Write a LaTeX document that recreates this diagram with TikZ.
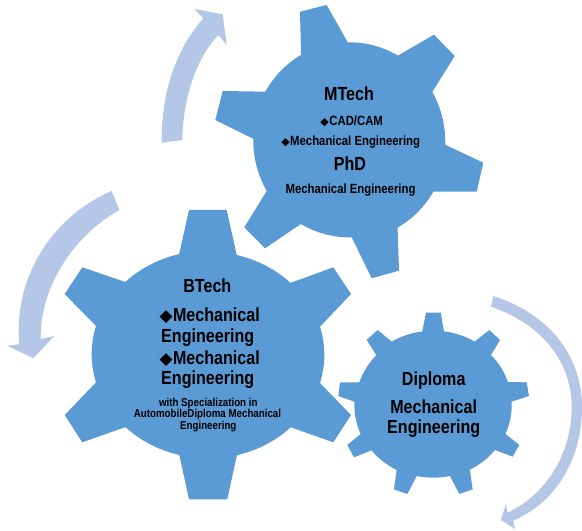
\documentclass[tikz,border=0pt]{standalone}
\usepackage{fontspec}
\setmainfont{Liberation Sans}[FakeStretch=0.85]
\newfontfamily\diafont{DejaVu Sans}
\newcommand{\smalldia}{{\diafont\fontsize{11}{11}\selectfont ◆}}
\newcommand{\bigdia}{{\diafont\fontsize{17}{17}\selectfont ◆}}
\tikzset{
  gearbody/.style={fill=gearblue,draw=none},
  cyclearrow/.style={fill=arrowblue,draw=none},
  lab/.style={anchor=base,inner sep=0pt,text=black,font=\bfseries\fontsize{19}{19}\selectfont},
  sublab/.style={anchor=base,inner sep=0pt,text=black,font=\bfseries\fontsize{13.4}{13.4}\selectfont},
  tinylab/.style={anchor=base,inner sep=0pt,text=black,font=\bfseries\fontsize{11.5}{11.5}\selectfont}
}
\definecolor{gearblue}{HTML}{5B9BD5}
\definecolor{arrowblue}{HTML}{B4C7E7}
\begin{document}
\begin{tikzpicture}[x=1bp,y=-1bp]
\useasboundingbox (0,0) rectangle (582,531);
% cycle arrows
\fill[cyclearrow] (161.7,142.7) .. controls (161,95) and (175,50) .. (203.3,18.3)
  -- (194.3,9) -- (222.7,14.3) -- (226.7,45) -- (218.3,35)
  .. controls (195,60) and (183,100) .. (182.3,140) -- cycle;
\fill[cyclearrow] (111.7,191) .. controls (55,215) and (13,275) .. (19.3,344.3)
  -- (7.3,345.7) -- (33.3,358.3) -- (54.3,336) -- (40.7,339)
  .. controls (40,285) and (75,235) .. (119.3,210) -- cycle;
\fill[cyclearrow] (493.3,296) .. controls (553,315) and (582,360) .. (582,406.7)
  .. controls (582,455) and (560,500) .. (513.3,520.7)
  -- (515,529) -- (501,520) -- (505.7,504.3) -- (507.7,512.7)
  .. controls (545,495) and (571.7,455) .. (571.7,406.7)
  .. controls (571.7,365) and (545,325) .. (491,306.7) -- cycle;
% MTech gear
\fill[gearbody] (300,11.7) -- (326.7,5) -- (347.7,42.3)
  arc[start angle=-91,end angle=-60,x radius=97,y radius=99.5]
  -- (434,34.7) -- (454.7,56) -- (432.3,92)
  arc[start angle=-30,end angle=1.7,x radius=97,y radius=99.5]
  -- (483.3,162.7) -- (476.7,191.7) -- (433.3,191.7)
  arc[start angle=30.6,end angle=60.5,x radius=97,y radius=99.5]
  -- (399,270.7) -- (371.7,278.3) -- (351.7,237.3)
  arc[start angle=88.6,end angle=120,x radius=97,y radius=99.5]
  -- (265,248.3) -- (244.3,227.3) -- (266.7,191)
  arc[start angle=149.5,end angle=181,x radius=97,y radius=99.5]
  -- (215.3,120) -- (222.7,91) -- (265.3,91.7)
  arc[start angle=209.7,end angle=240,x radius=97,y radius=99.5]
  -- cycle;
% BTech gear
\fill[gearbody] (189,210) -- (226.7,210) -- (236.7,255)
  arc[start angle=-75.5,end angle=-44.4,x radius=116,y radius=104]
  -- (333.3,267.3) -- (351,294) -- (320,326.7)
  arc[start angle=-15.7,end angle=15.7,x radius=116,y radius=104]
  -- (351,415) -- (333.3,442.3) -- (290.7,427.3)
  arc[start angle=44.4,end angle=75.5,x radius=116,y radius=104]
  -- (227.3,499.3) -- (189,499.3) -- (179.3,455)
  arc[start angle=104.5,end angle=135.6,x radius=116,y radius=104]
  -- (82.3,442.3) -- (64.7,415) -- (96,382.3)
  arc[start angle=164.3,end angle=195.7,x radius=116,y radius=104]
  -- (64.7,294) -- (82.3,267.3) -- (125.3,282)
  arc[start angle=224.4,end angle=255.5,x radius=116,y radius=104]
  -- cycle;
% Diploma gear (coordinates in units of a third of a pixel)
\begin{scope}[shift={(330,290)},x=0.33333bp,y=-0.33333bp]
\fill[gearbody] (288,68) -- (332,68) -- (342,124)
  arc[start angle=-82.4,end angle=-58.4,x radius=234.5,y radius=220]
  -- (478,120) -- (510,150) -- (483,195)
  arc[start angle=-42.8,end angle=-18.1,x radius=234.5,y radius=220]
  -- (590,277) -- (597,318) -- (545,335)
  arc[start angle=-2.6,end angle=23.2,x radius=234.5,y radius=220]
  -- (568,465) -- (548,500) -- (495,480)
  arc[start angle=38,end angle=62.2,x radius=234.5,y radius=220]
  -- (428,598) -- (388,612) -- (360,558)
  arc[start angle=77.7,end angle=102.3,x radius=234.5,y radius=220]
  -- (232,612) -- (192,598) -- (200,540)
  arc[start angle=117.8,end angle=142,x radius=234.5,y radius=220]
  -- (72,502) -- (52,465) -- (92,432)
  arc[start angle=156.8,end angle=182.6,x radius=234.5,y radius=220]
  -- (25,318) -- (30,277) -- (88,277)
  arc[start angle=198.1,end angle=222.8,x radius=234.5,y radius=220]
  -- (110,150) -- (143,120) -- (185,155)
  arc[start angle=238.4,end angle=262.4,x radius=234.5,y radius=220]
  -- cycle;
\end{scope}
% MTech labels
\node[lab] (mtech) at (349,101) {MTech};
\node[sublab] (cadcam) at (351.7,125.3) {\smalldia\hspace{0.5pt}CAD/CAM};
\node[sublab] (mtechme) at (350.7,146) {\smalldia\hspace{0.5pt}Mechanical Engineering};
\node[lab] (phd) at (350,171) {PhD};
\node[sublab] (phdme) at (350.5,194) {Mechanical Engineering};
% BTech labels
\node[lab] (btech) at (207.3,292.7) {BTech};
\node[lab] (bme1a) at (209.7,321.7) {\bigdia\hspace{0.5pt}Mechanical};
\node[lab] (bme1b) at (207.7,342.3) {Engineering};
\node[lab] (bme2a) at (209.7,364) {\bigdia\hspace{0.5pt}Mechanical};
\node[lab] (bme2b) at (207.7,384) {Engineering};
\node[tinylab] (spec1) at (208.3,406) {with Specialization in};
\node[tinylab] (spec2) at (207.5,417.7) {AutomobileDiploma Mechanical};
\node[tinylab] (spec3) at (208.3,429.3) {Engineering};
% Diploma labels
\node[lab] (dipl) at (433.7,385) {Diploma};
\node[lab] (dme1) at (433.7,413.3) {Mechanical};
\node[lab] (dme2) at (433.7,433.3) {Engineering};
\end{tikzpicture}
\end{document}
